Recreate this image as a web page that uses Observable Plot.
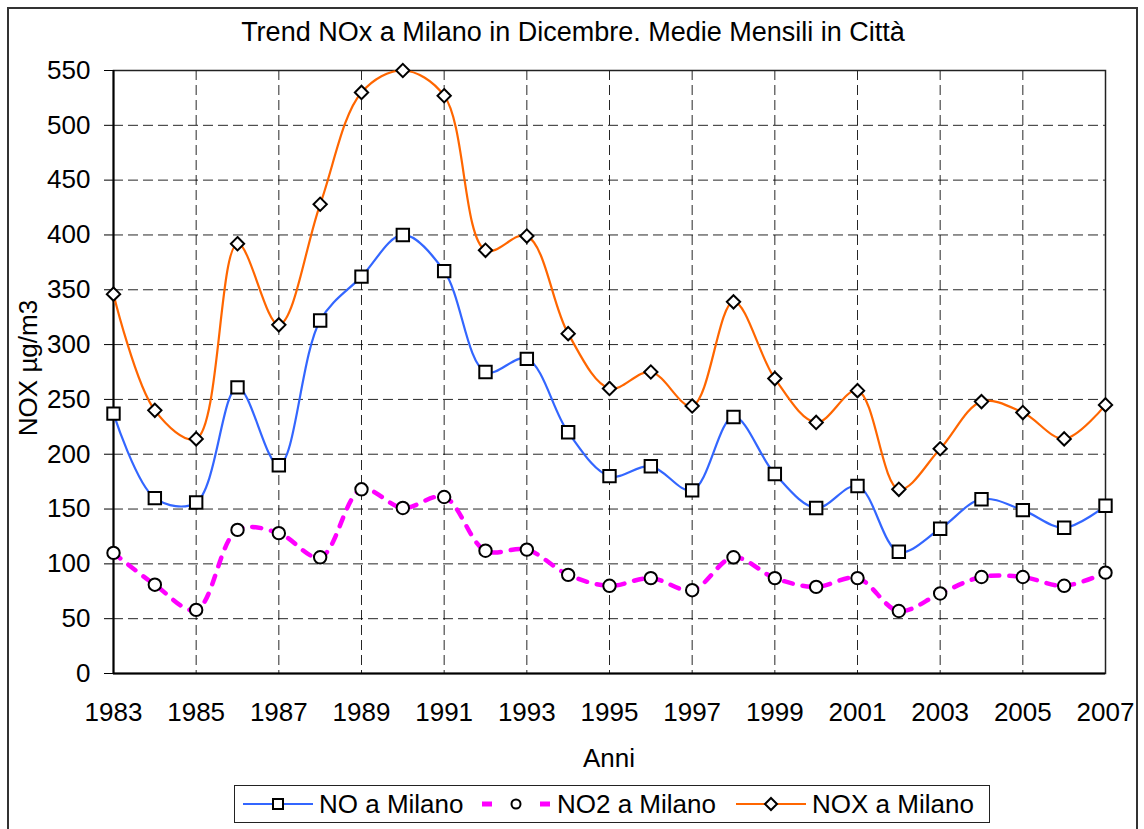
<!DOCTYPE html>
<html>
<head>
<meta charset="utf-8">
<script src="https://cdn.jsdelivr.net/npm/d3@7"></script>
<script src="https://cdn.jsdelivr.net/npm/@observablehq/plot@0.6"></script>
<style>
  html, body { margin: 0; padding: 0; background: #fff; overflow: hidden; }
  body { width: 1144px; height: 829px; position: relative; font-family: "Liberation Sans", Arial, sans-serif; color: #000; }
  #frame { position: absolute; left: 7px; top: 7px; width: 1131px; height: 840px; border: 2px solid #333; box-sizing: border-box; }
  #chart { position: absolute; left: 0; top: 0; }
  .txt { position: absolute; font-size: 26px; line-height: 30px; white-space: nowrap; }
  #title { left: 573px; top: 17px; transform: translateX(-50%); font-size: 27px; }
  #xlabel { left: 609px; top: 743px; transform: translateX(-50%); }
  #ylabel { left: 28px; top: 368px; transform: translate(-50%, -50%) rotate(-90deg); }
  #legend { position: absolute; left: 234px; top: 785px; width: 756px; height: 38px; border: 1.5px solid #222; box-sizing: border-box; background: #fff; }
  .item { position: absolute; top: 0; height: 36px; display: flex; align-items: center; font-size: 26px; white-space: nowrap; }
  .item svg { display: block; }
</style>
</head>
<body>
<div id="frame"></div>
<div id="chart"></div>
<div class="txt" id="title">Trend NOx a Milano in Dicembre. Medie Mensili in Città</div>
<div class="txt" id="xlabel">Anni</div>
<div class="txt" id="ylabel">NOX µg/m3</div>
<div id="legend"></div>
<script>
const years = [1983,1984,1985,1986,1987,1988,1989,1990,1991,1992,1993,1994,1995,1996,1997,1998,1999,2000,2001,2002,2003,2004,2005,2006,2007];
const noValues  = [237,160,156,261,190,322,362,400,367,275,287,220,180,189,167,234,182,151,171,111,132,159,149,133,153];
const no2Values = [110,81,58,131,128,106,168,151,161,112,113,90,80,87,76,106,87,79,87,57,73,88,88,80,92];
const noxValues = [346,240,214,392,318,428,530,550,527,386,399,310,260,275,244,339,269,229,258,168,205,248,238,214,245];
const seriesNames = ["NO a Milano", "NO2 a Milano", "NOX a Milano"];
const yTicks = d3.range(0, 551, 50);
const xTicks = d3.range(1983, 2008, 2);

const toRows = (vals) => years.map((year, i) => ({year, value: vals[i]}));
const noData = toRows(noValues), no2Data = toRows(no2Values), noxData = toRows(noxValues);

const blue = "#3366FF", magenta = "#FF00FF", orange = "#FF6600";

const chart = Plot.plot({
  width: 1144,
  height: 760,
  marginTop: 70,
  marginBottom: 87,
  marginLeft: 113,
  marginRight: 39,
  style: {fontFamily: "'Liberation Sans', Arial, sans-serif", fontSize: "26px", color: "#000", background: "transparent", overflow: "visible"},
  x: {domain: [1983, 2007], ticks: xTicks, tickFormat: "d", tickSize: 0, tickPadding: 29, label: null},
  y: {domain: [0, 550], ticks: yTicks, tickSize: 9, tickPadding: 14, label: null},
  marks: [
    Plot.ruleY(yTicks.filter(d => d > 0 && d < 550), {stroke: "#000", strokeOpacity: 0.85, strokeDasharray: "10,5"}),
    Plot.ruleX(xTicks.filter(d => d > 1983 && d < 2007), {stroke: "#000", strokeOpacity: 0.85, strokeDasharray: "10,5"}),
    Plot.frame({stroke: "#222", strokeWidth: 1.5}),
    Plot.ruleX([1983], {stroke: "#000", strokeWidth: 2}),
    Plot.ruleY([0], {stroke: "#000", strokeWidth: 2}),
    Plot.line(noData, {x: "year", y: "value", stroke: blue, strokeWidth: 2.2, curve: "catmull-rom"}),
    Plot.line(no2Data, {x: "year", y: "value", stroke: magenta, strokeWidth: 4.5, strokeDasharray: "9,10", curve: "catmull-rom"}),
    Plot.line(noxData, {x: "year", y: "value", stroke: orange, strokeWidth: 2.2, curve: "catmull-rom"}),
    Plot.dot(noData, {x: "year", y: "value", symbol: "square", r: 7, stroke: "#000", strokeWidth: 2, fill: "#fff"}),
    Plot.dot(no2Data, {x: "year", y: "value", symbol: "circle", r: 6.2, stroke: "#000", strokeWidth: 2, fill: "#fff"}),
    Plot.dot(noxData, {x: "year", y: "value", symbol: "diamond2", r: 6, stroke: "#000", strokeWidth: 2, fill: "#fff"})
  ]
});
document.getElementById("chart").appendChild(chart);

// Legend
const legend = document.getElementById("legend");
const legendItems = [
  {name: seriesNames[0], left: 8, sw: 70, color: blue, kind: "square"},
  {name: seriesNames[1], left: 246, sw: 70, color: magenta, kind: "circle"},
  {name: seriesNames[2], left: 501, sw: 70, color: orange, kind: "diamond"}
];
for (const it of legendItems) {
  const div = document.createElement("div");
  div.className = "item";
  div.style.left = it.left + "px";
  const ns = "http://www.w3.org/2000/svg";
  const svg = document.createElementNS(ns, "svg");
  svg.setAttribute("width", it.sw + 6);
  svg.setAttribute("height", 36);
  const cx = it.sw / 2, cy = 18;
  if (it.kind === "circle") {
    for (const x0 of [1, it.sw - 11]) {
      const r = document.createElementNS(ns, "rect");
      r.setAttribute("x", x0); r.setAttribute("y", cy - 2.5); r.setAttribute("width", 10); r.setAttribute("height", 5);
      r.setAttribute("fill", it.color);
      svg.appendChild(r);
    }
    const c = document.createElementNS(ns, "circle");
    c.setAttribute("cx", cx); c.setAttribute("cy", cy); c.setAttribute("r", 4.5);
    c.setAttribute("fill", "#fff"); c.setAttribute("stroke", "#000"); c.setAttribute("stroke-width", 2);
    svg.appendChild(c);
  } else {
    const l = document.createElementNS(ns, "line");
    l.setAttribute("x1", 0); l.setAttribute("x2", it.sw); l.setAttribute("y1", cy); l.setAttribute("y2", cy);
    l.setAttribute("stroke", it.color); l.setAttribute("stroke-width", 2);
    svg.appendChild(l);
    const p = document.createElementNS(ns, "path");
    if (it.kind === "square") {
      p.setAttribute("d", `M${cx-5},${cy-5}h10v10h-10z`);
    } else {
      p.setAttribute("d", `M${cx},${cy-6}L${cx+6},${cy}L${cx},${cy+6}L${cx-6},${cy}Z`);
    }
    p.setAttribute("fill", "#fff"); p.setAttribute("stroke", "#000"); p.setAttribute("stroke-width", 2);
    svg.appendChild(p);
  }
  div.appendChild(svg);
  const span = document.createElement("span");
  span.textContent = it.name;
  div.appendChild(span);
  legend.appendChild(div);
}
</script>
</body>
</html>
